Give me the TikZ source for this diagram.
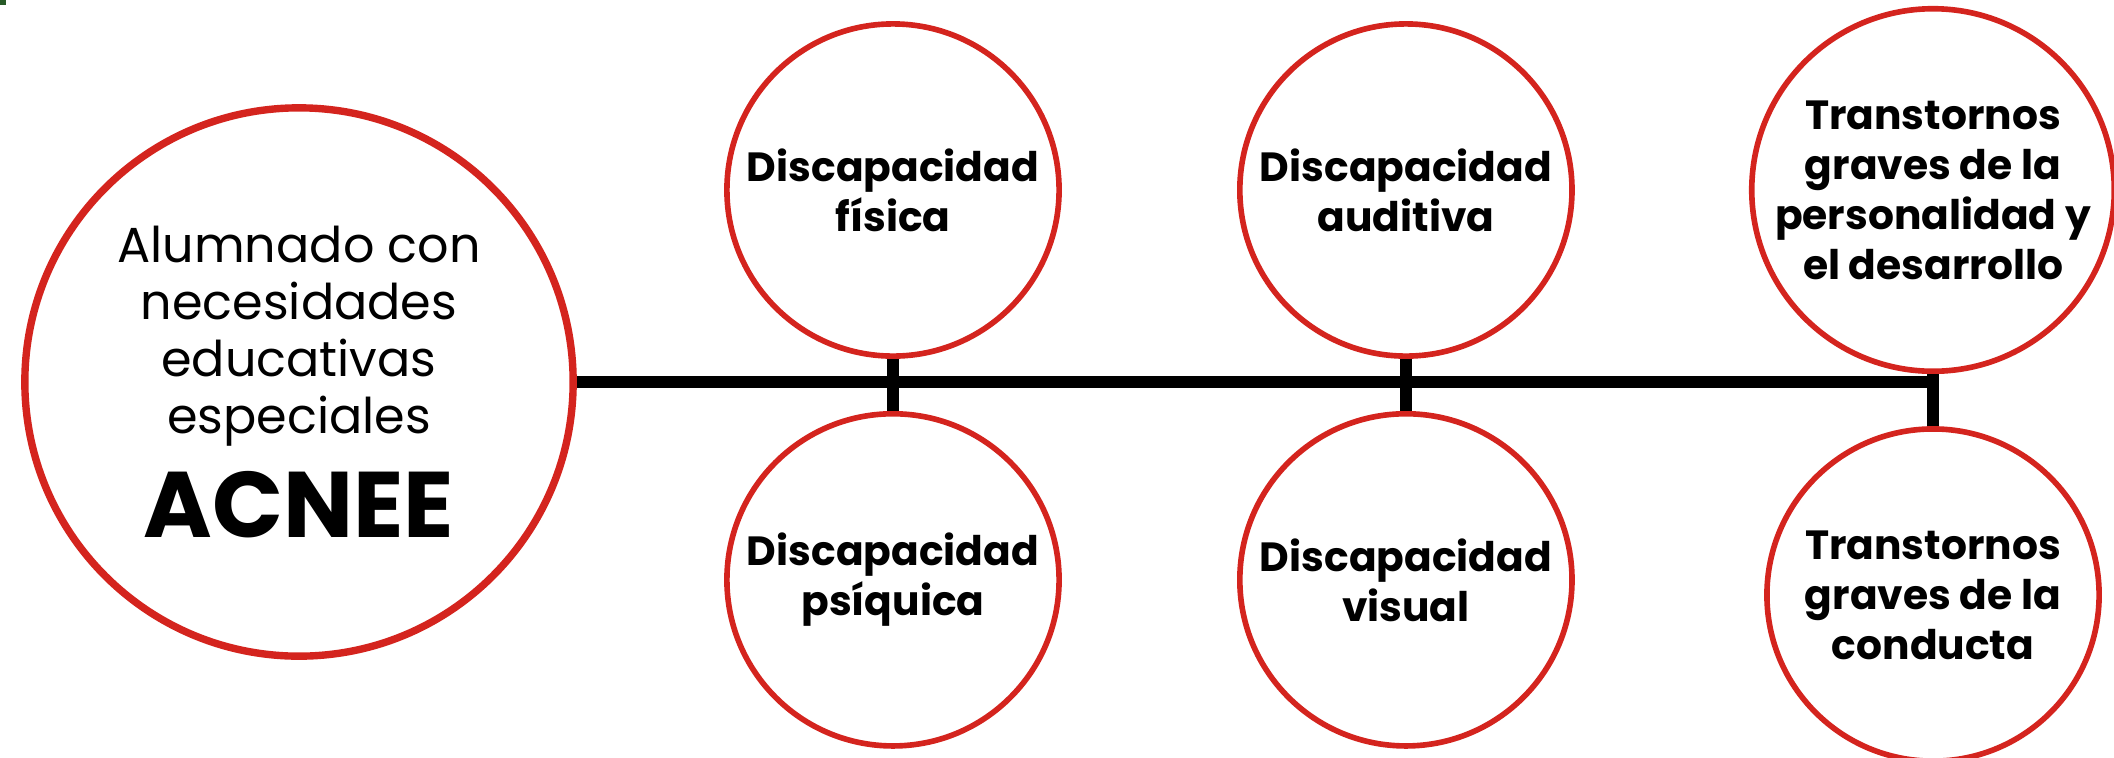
\documentclass[tikz,border=0pt]{standalone}
\usepackage{fontspec}
\setmainfont{Poppins}
\usetikzlibrary{positioning}

\definecolor{ringred}{RGB}{212,36,30}
\definecolor{cornergreen}{RGB}{40,90,40}

\tikzset{
    ring/.style={circle, draw=ringred, line width=1.6pt, fill=white,
        minimum size=3.32cm, inner sep=0pt, align=center,
        font=\bfseries\fontsize{11.6}{14.2}\selectfont},
    bigring/.style={ring, line width=2.1pt, minimum size=5.48cm,
        font=\fontsize{14}{16.2}\selectfont},
    bar/.style={line width=3.3pt}
}

\begin{document}
\begin{tikzpicture}[x=0.01cm, y=-0.01cm]
    \useasboundingbox (0,0) rectangle (2114,757);
    \fill[cornergreen] (0,0) rectangle (6,5);

    \node[bigring] (acnee) at (299,382)
        {Alumnado con\\necesidades\\educativas\\especiales\\[6pt]
         {\fontsize{26.5}{28}\selectfont\bfseries ACNEE}};

    % upper row
    \node[ring] (fisica) at (893,190) {Discapacidad\\física};
    \node[ring, right=1.75cm of fisica] (auditiva) {Discapacidad\\auditiva};
    \node[ring, right=1.74cm of auditiva] (personalidad)
        {Transtornos\\graves de la\\personalidad y\\el desarrollo};

    % lower row
    \node[ring, below=0.52cm of fisica] (psiquica) {Discapacidad\\psíquica};
    \node[ring, below=0.52cm of auditiva] (visual) {Discapacidad\\visual};
    \node[ring, below=0.52cm of personalidad] (conducta)
        {Transtornos\\graves de la\\conducta};

    \coordinate (end) at (personalidad |- acnee.east);
    \draw[bar] (acnee.east) -- (end);
    \foreach \up/\down in {fisica/psiquica, auditiva/visual, personalidad/conducta}
        \draw[bar] (\up) -- (\down);
\end{tikzpicture}
\end{document}
